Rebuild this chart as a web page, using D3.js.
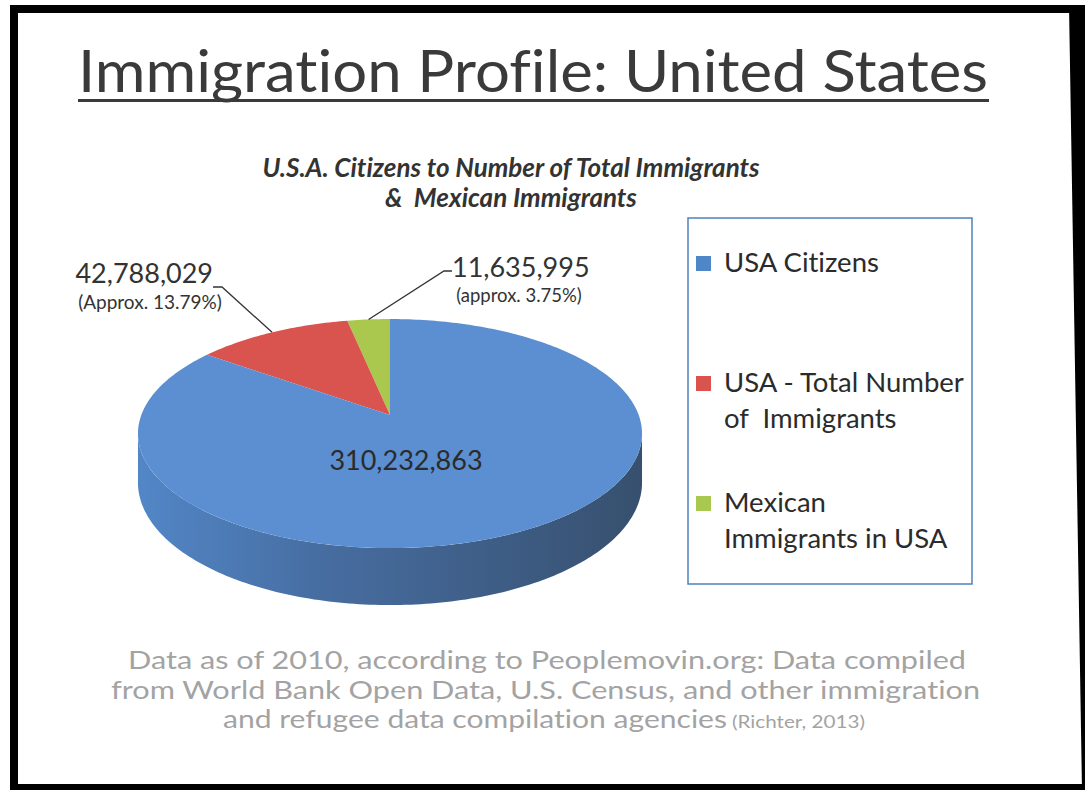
<!DOCTYPE html>
<html>
<head>
<meta charset="utf-8">
<script src="https://cdn.jsdelivr.net/npm/d3@7"></script>
<style>
  body { margin: 0; background: #fff; }
  svg { display: block; }
  text { font-family: Lato, "Open Sans", sans-serif; font-variant-ligatures: none; }
</style>
</head>
<body>
<svg id="chart"></svg>
<script>
// slices in drawing order: counter-clockwise from 12 o'clock
const categories = ["Mexican Immigrants in USA", "USA - Total Number of Immigrants", "USA Citizens"];
const values = [11635995, 42788029, 310232863];
const valueLabels = ["11,635,995", "42,788,029", "310,232,863"];
const percentLabels = ["(approx. 3.75%)", "(Approx. 13.79%)", ""];
const sliceColors = ["#aac84e", "#d9534f", "#5b8fd1"];

// legend order (top to bottom) and wrapped lines
const legendOrder = ["USA Citizens", "USA - Total Number of Immigrants", "Mexican Immigrants in USA"];
const legendLines = [["USA Citizens"], ["USA - Total Number", "of  Immigrants"], ["Mexican", "Immigrants in USA"]];
const legendColors = ["#4f86c8", "#d9534f", "#a9c84f"];

const footerLines = [
  "Data as of 2010, according to Peoplemovin.org: Data compiled",
  "from World Bank Open Data, U.S. Census, and other immigration",
  "and refugee data compilation agencies"
];
const footerCite = "(Richter, 2013)";

const width = 1085, height = 790;

const svg = d3.select("#chart")
    .attr("width", width)
    .attr("height", height);

// scanned slide frame
svg.append("rect").attr("x", 10).attr("y", 5).attr("width", 8).attr("height", 785).attr("fill", "#000");
svg.append("rect").attr("x", 10).attr("y", 5).attr("width", 1075).attr("height", 8).attr("fill", "#000");
svg.append("path").attr("d", "M1069,5 L1085,5 L1085,790 L1082,790 Z").attr("fill", "#000");
svg.append("rect").attr("x", 10).attr("y", 784).attr("width", 1075).attr("height", 6).attr("fill", "#000");

// title
svg.append("text")
    .attr("x", 78).attr("y", 92)
    .attr("font-size", 58)
    .attr("fill", "#3a3a3a")
    .attr("textLength", 910)
    .attr("lengthAdjust", "spacingAndGlyphs")
    .text("Immigration Profile: United States");
svg.append("rect").attr("x", 78).attr("y", 99).attr("width", 911).attr("height", 3).attr("fill", "#3a3a3a");

// chart title
const sub = svg.append("text")
    .attr("text-anchor", "middle")
    .attr("font-size", 26)
    .attr("font-weight", "bold")
    .attr("font-style", "italic")
    .attr("fill", "#333");
sub.append("tspan").attr("x", 511).attr("y", 177).text("U.S.A. Citizens to Number of Total Immigrants");
sub.append("tspan").attr("x", 511).attr("y", 207).attr("xml:space", "preserve").text("&  Mexican Immigrants");

// 3D pie with perspective
const cx = 390, cy = 415, kx = 248.7, ky = 111.5, persp = 0.162, depth = 47.8;
const project = (theta, r = 1, drop = 0) => {
  const w = 1 + persp * r * Math.cos(theta);
  return [cx - kx * r * Math.sin(theta) / w, cy - ky * r * Math.cos(theta) / w + drop / w];
};
const arcPoints = (a0, a1, drop = 0) => {
  const n = Math.max(2, Math.ceil(Math.abs(a1 - a0) / (Math.PI / 180)));
  return d3.range(n + 1).map(i => project(a0 + (a1 - a0) * i / n, 1, drop));
};

const arcs = d3.pie().sort(null).value(d => d)(values);

const defs = svg.append("defs");
const grad = defs.append("linearGradient")
    .attr("id", "side")
    .attr("gradientUnits", "userSpaceOnUse")
    .attr("x1", cx - kx).attr("x2", cx + kx).attr("y1", 0).attr("y2", 0);
grad.append("stop").attr("offset", "0%").attr("stop-color", "#5286c6");
grad.append("stop").attr("offset", "35%").attr("stop-color", "#476ea2");
grad.append("stop").attr("offset", "100%").attr("stop-color", "#37506f");

const line = d3.line();

// side wall (front half only)
const tL = Math.acos(-persp), tR = 2 * Math.PI - tL;
const sideTop = arcPoints(tL, tR);
const sideBottom = arcPoints(tR, tL, depth);
svg.append("path")
    .attr("d", line(sideTop.concat(sideBottom)) + "Z")
    .attr("fill", "url(#side)");

// top faces
svg.append("g").selectAll("path")
  .data(arcs)
  .enter().append("path")
    .attr("d", d => line([project(0, 0)].concat(arcPoints(d.startAngle, d.endAngle))) + "Z")
    .attr("fill", (d, i) => sliceColors[i]);

// leader lines + outside labels
const leaders = [
  { i: 0, elbow: [452, 271], tip: [444, 271] },
  { i: 1, elbow: [213, 287], tip: [222, 287] }
];
svg.append("g").selectAll("path")
  .data(leaders)
  .enter().append("path")
    .attr("d", d => {
      const a = arcs[d.i];
      const p = project((a.startAngle + a.endAngle) / 2);
      return line([d.elbow, d.tip, p]);
    })
    .attr("fill", "none")
    .attr("stroke", "#333")
    .attr("stroke-width", 1.3);

svg.append("text").attr("x", 452).attr("y", 277).attr("font-size", 27).attr("fill", "#333").text(valueLabels[0]);
svg.append("text").attr("x", 519).attr("y", 302).attr("text-anchor", "middle").attr("font-size", 18.5).attr("fill", "#333").text(percentLabels[0]);
svg.append("text").attr("x", 213).attr("y", 283).attr("text-anchor", "end").attr("font-size", 27).attr("fill", "#333").text(valueLabels[1]);
svg.append("text").attr("x", 150).attr("y", 309).attr("text-anchor", "middle").attr("font-size", 19).attr("fill", "#333").text(percentLabels[1]);
svg.append("text").attr("x", 406).attr("y", 470).attr("text-anchor", "middle").attr("font-size", 27).attr("fill", "#2b2b2b").text(valueLabels[2]);

// legend
svg.append("rect")
    .attr("x", 688).attr("y", 218).attr("width", 284).attr("height", 366)
    .attr("fill", "none").attr("stroke", "#4f81bd").attr("stroke-width", 1.5);

const legendY = d3.scalePoint().domain(legendOrder).range([256, 496]);
const item = svg.append("g").selectAll("g")
  .data(legendOrder)
  .enter().append("g")
    .attr("transform", d => `translate(696,${legendY(d)})`);
item.append("rect")
    .attr("width", 15).attr("height", 15)
    .attr("fill", (d, i) => legendColors[i]);
item.append("text")
    .attr("font-size", 27.5)
    .attr("fill", "#2b2b2b")
    .attr("xml:space", "preserve")
  .selectAll("tspan")
  .data((d, i) => legendLines[i])
  .enter().append("tspan")
    .attr("x", 28)
    .attr("y", (d, j) => 16 + j * 36)
    .text(d => d);

// footer: one text per line, stretched to the scanned widths
const footSpans = [[128, 838], [111, 869], [223, 504]];
svg.append("g").selectAll("text")
  .data(footerLines)
  .enter().append("text")
    .attr("x", (d, i) => footSpans[i][0])
    .attr("y", (d, i) => 669 + i * 29.5)
    .attr("font-size", 25)
    .attr("fill", "#a3a3a3")
    .attr("textLength", (d, i) => footSpans[i][1])
    .attr("lengthAdjust", "spacingAndGlyphs")
    .text(d => d);
svg.append("text")
    .attr("x", 732).attr("y", 728)
    .attr("font-size", 17)
    .attr("fill", "#a3a3a3")
    .attr("textLength", 133)
    .attr("lengthAdjust", "spacingAndGlyphs")
    .text(footerCite);
</script>
</body>
</html>
